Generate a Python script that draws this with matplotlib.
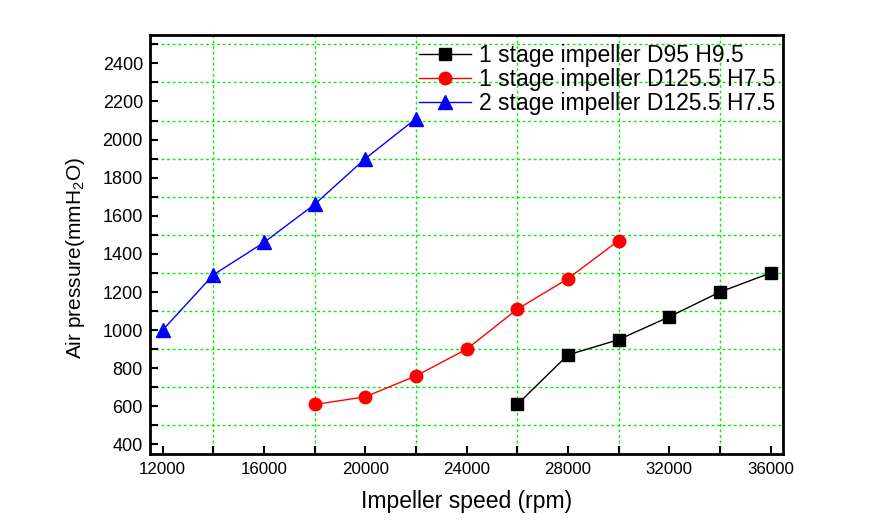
import matplotlib
matplotlib.use("Agg")
import matplotlib.pyplot as plt
from matplotlib.ticker import MultipleLocator

plt.rcParams['font.family'] = ['Liberation Sans', 'DejaVu Sans']
plt.rcParams['mathtext.fontset'] = 'custom'
plt.rcParams['mathtext.rm'] = 'Liberation Sans'

speed_d95 = [26000, 28000, 30000, 32000, 34000, 36000]
pres_d95 = [610, 870, 950, 1070, 1200, 1300]
speed_d125 = [18000, 20000, 22000, 24000, 26000, 28000, 30000]
pres_d125 = [610, 650, 760, 900, 1110, 1270, 1470]
speed_2st = [12000, 14000, 16000, 18000, 20000, 22000]
pres_2st = [1000, 1290, 1460, 1660, 1900, 2110]
labels = ["1 stage impeller D95 H9.5", "1 stage impeller D125.5 H7.5",
          "2 stage impeller D125.5 H7.5"]

fig = plt.figure(figsize=(8.82, 5.32), dpi=100)
ax = fig.add_axes([0.170, 0.1466, 0.718, 0.788])

ax.plot(speed_d95, pres_d95, color='black', marker='s', markersize=8, lw=1, label=labels[0])
ax.plot(speed_d125, pres_d125, color='red', marker='o', markersize=9, lw=1, label=labels[1])
ax.plot(speed_2st, pres_2st, color='blue', marker='^', markersize=10.5, lw=1, label=labels[2])

ax.set_xlim(11500, 36500)
ax.set_ylim(350, 2550)
ax.xaxis.set_major_locator(MultipleLocator(4000))
ax.xaxis.set_minor_locator(MultipleLocator(2000))
ax.yaxis.set_major_locator(MultipleLocator(200))
ax.yaxis.set_minor_locator(MultipleLocator(100))

# grid on minor positions between labeled ticks
for xv in range(14000, 36000, 4000):
    ax.axvline(xv, color='#00ee00', ls=(0, (2, 2)), lw=1, zorder=0)
for yv in range(500, 2600, 200):
    ax.axhline(yv, color='#00ee00', ls=(0, (2, 2)), lw=1, zorder=0)

ax.tick_params(which='both', direction='in', width=1.5, top=False, right=False)
ax.tick_params(which='major', length=6)
ax.tick_params(which='minor', length=6)
ax.tick_params(axis='x', labelsize=12.2, pad=6)
ax.tick_params(axis='y', labelsize=13, pad=5)
for s in ax.spines.values():
    s.set_linewidth(2)

ax.set_xlabel("Impeller speed (rpm)", fontsize=16.5, labelpad=9)
ax.set_ylabel(r"Air pressure(mmH$_\mathregular{2}$O)", fontsize=15, labelpad=11)
ax.yaxis.label.set_y(0.468)

ax.legend(loc='upper right', frameon=False, fontsize=16.5, handlelength=2.27,
          borderaxespad=0.0, labelspacing=0.05, handletextpad=0.35,
          borderpad=0.2, bbox_to_anchor=(0.995, 0.99))

fig.savefig("out.png", dpi=100)
